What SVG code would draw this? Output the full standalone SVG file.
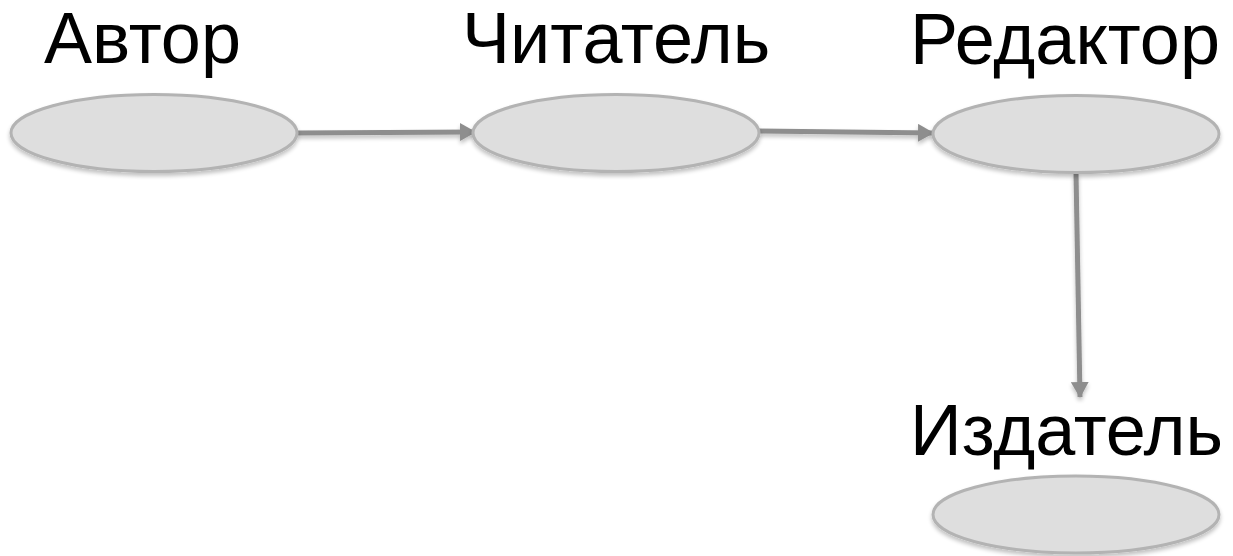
<svg xmlns="http://www.w3.org/2000/svg" width="1233" height="556" viewBox="0 0 1233 556">
<style>
.node ellipse{fill:#dedede;stroke:#b3b3b3;stroke-width:3}
.label{font-family:"Liberation Sans",Arial,sans-serif;font-size:72px;fill:#000}
.conn line{stroke:#8e8e8e;stroke-width:5}
</style>
<defs>
<filter id="sh" x="-20%" y="-20%" width="140%" height="160%">
<feGaussianBlur in="SourceAlpha" stdDeviation="2"/>
<feOffset dx="0" dy="3" result="b"/>
<feComponentTransfer><feFuncA type="linear" slope="0.25"/></feComponentTransfer>
<feMerge><feMergeNode/><feMergeNode in="SourceGraphic"/></feMerge>
</filter>
<marker id="ah" markerWidth="16" markerHeight="18" refX="15" refY="9" orient="auto" markerUnits="userSpaceOnUse">
<path d="M0,0 L16,9 L0,18 Z" fill="#8e8e8e"/>
</marker>
</defs>
<g id="connectors" class="conn" filter="url(#sh)">
<line x1="297" y1="133" x2="475" y2="132" marker-end="url(#ah)"/>
<line x1="759" y1="131" x2="933" y2="133" marker-end="url(#ah)"/>
<line x1="1076" y1="173" x2="1080" y2="397" marker-end="url(#ah)"/>
</g>
<g id="avtor" class="node">
<text class="label" x="44" y="63">Автор</text>
<ellipse cx="154" cy="133" rx="143" ry="38.5" filter="url(#sh)"/>
</g>
<g id="chitatel" class="node">
<text class="label" x="462" y="63">Читатель</text>
<ellipse cx="616" cy="133" rx="143" ry="38.5" filter="url(#sh)"/>
</g>
<g id="redaktor" class="node">
<text class="label" x="910" y="64">Редактор</text>
<ellipse cx="1076" cy="134" rx="143" ry="38.5" filter="url(#sh)"/>
</g>
<g id="izdatel" class="node">
<text class="label" x="910" y="455">Издатель</text>
<ellipse cx="1076" cy="514.5" rx="143" ry="38.5" filter="url(#sh)"/>
</g>
</svg>
